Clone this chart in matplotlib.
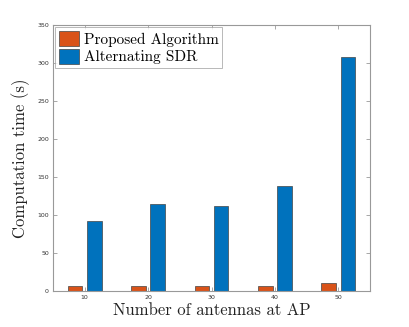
import numpy as np
import matplotlib.pyplot as plt

# data
antennas = [10, 20, 30, 40, 50]
proposed = [7, 6, 6, 7, 11]
alt_sdr = [92, 115, 112, 138, 308]

c_prop = '#D95319'
c_sdr = '#0072BD'
grey = '#999999'

plt.rcParams['font.family'] = 'cmr10'
plt.rcParams['axes.formatter.use_mathtext'] = True

fig = plt.figure(figsize=(4.09, 3.27), dpi=100)
ax = fig.add_axes([53 / 409, 1 - 291 / 327, 317 / 409, 266 / 327])

x = np.arange(len(antennas))
w = 0.23
ax.bar(x - 0.15, proposed, w, color=c_prop, edgecolor='#444444', linewidth=0.5,
       label='Proposed Algorithm')
ax.bar(x + 0.15, alt_sdr, w, color=c_sdr, edgecolor='#444444', linewidth=0.5,
       label='Alternating SDR')

ax.set_xlim(-0.5, len(antennas) - 0.5)
ax.set_ylim(0, 350)
ax.set_xticks(x)
ax.set_xticklabels([str(a) for a in antennas], family='DejaVu Sans')
ax.set_yticks(np.arange(0, 351, 50))
ax.set_yticklabels([str(v) for v in range(0, 351, 50)], family='DejaVu Sans')

ax.tick_params(direction='in', length=3, width=0.6, color=grey, labelsize=4.5,
               labelcolor='#333333', top=True, right=True, pad=3)
for s in ax.spines.values():
    s.set_color(grey)
    s.set_linewidth(0.8)

ax.set_xlabel('Number of antennas at AP', fontsize=12, color='#222222', labelpad=2)
ax.set_ylabel('Computation time (s)', fontsize=12, color='#222222', labelpad=5)

leg = ax.legend(loc='upper left', fontsize=11, frameon=True, fancybox=False,
                handlelength=1.3, handleheight=1.1, handletextpad=0.3,
                borderpad=0.25, borderaxespad=0.15, labelspacing=0.15)
leg.get_frame().set_edgecolor(grey)
leg.get_frame().set_linewidth(0.6)

fig.savefig('out.png', dpi=100)
